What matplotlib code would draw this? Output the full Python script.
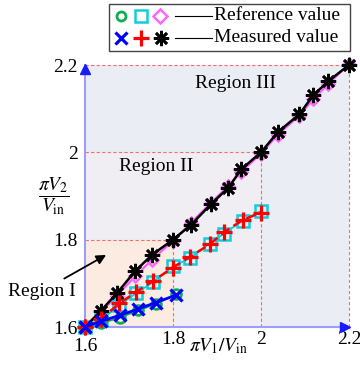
import matplotlib
matplotlib.use("Agg")
import matplotlib.pyplot as plt
from matplotlib.patches import Rectangle

plt.rcParams['font.family'] = ['Liberation Serif', 'DejaVu Serif']
plt.rcParams['mathtext.fontset'] = 'stix'

# ---- data ----
# Region I (blue / green)
x_r1 = [1.6, 1.636, 1.68, 1.72, 1.761, 1.807]
y_r1_meas = [1.6, 1.613, 1.627, 1.641, 1.656, 1.673]
y_r1_ref = [1.6, 1.609, 1.621, 1.638, 1.652, 1.676]
# Region II (red / cyan)
x_r2 = [1.6, 1.636, 1.678, 1.716, 1.755, 1.8, 1.839, 1.883, 1.916, 1.958, 2.0]
y_r2_meas = [1.6, 1.618, 1.654, 1.68, 1.706, 1.736, 1.761, 1.789, 1.817, 1.845, 1.862]
y_r2_ref = [1.6, 1.615, 1.650, 1.677, 1.703, 1.739, 1.758, 1.791, 1.814, 1.843, 1.866]
# Region III (black / magenta)
x_r3 = [1.6, 1.636, 1.673, 1.714, 1.752, 1.8, 1.84, 1.886, 1.926, 1.955, 2.0,
        2.038, 2.087, 2.119, 2.153, 2.2]
y_r3_meas = [1.6, 1.637, 1.678, 1.728, 1.765, 1.8, 1.833, 1.881, 1.919, 1.961, 2.0,
             2.046, 2.087, 2.131, 2.163, 2.2]
y_r3_ref = [1.6, 1.634, 1.672, 1.716, 1.754, 1.797, 1.838, 1.884, 1.924, 1.955, 1.997,
            2.040, 2.084, 2.122, 2.156, 2.203]
x_ticks = [1.8, 2.0, 2.2]
x_tick_labels = ['1.8', '2', '2.2']
y_ticks = [1.6, 1.8, 2.0, 2.2]
y_tick_labels = ['1.6', '1.8', '2', '2.2']
region_bounds = [2.2, 2.0, 1.8]
region_colors = ['#ebedf4', '#f1eef3', '#fbebe0']

W, H = 360, 365
fig = plt.figure(figsize=(W / 100, H / 100), dpi=100)

def fxy(px, py):
    return px / W, 1 - py / H

x0, x1 = 85, 349
y0, y1 = 327, 65
ax = fig.add_axes([x0 / W, 1 - y0 / H, (x1 - x0) / W, (y0 - y1) / H])
ax.set_xlim(1.6, 2.2)
ax.set_ylim(1.6, 2.2)
ax.set_facecolor('white')

# region shading and dashed boundaries
for b, c in zip(region_bounds, region_colors):
    ax.add_patch(Rectangle((1.6, 1.6), b - 1.6, b - 1.6, facecolor=c,
                           edgecolor='none', zorder=0))
for b in region_bounds:
    ax.plot([1.6, b], [b, b], color='#f07070', lw=0.8, dashes=(3, 2), zorder=1,
            clip_on=False)
    ax.plot([b, b], [1.6, b], color='#f07070', lw=0.8, dashes=(3, 2), zorder=1,
            clip_on=False)

# series
ax.plot(x_r3, y_r3_ref, color='#ff55ff', lw=1.5, marker='D', ms=6.5, mfc='none',
        mec='#ff66ff', mew=1.8, zorder=3, clip_on=False)
ax.plot(x_r3, y_r3_meas, color='black', lw=1.8, marker=(8, 2, 0), ms=11,
        mec='black', mew=1.9, zorder=4, clip_on=False)
ax.plot(x_r2, y_r2_ref, color='#00ccdd', lw=1.2, marker='s', ms=8.5, mfc='none',
        mec='#11ccdd', mew=1.8, zorder=3, clip_on=False)
ax.plot(x_r2, y_r2_meas, color='red', lw=1.8, dashes=(4, 2), marker='+', ms=11,
        mec='red', mew=2.3, zorder=4, clip_on=False)
ax.plot(x_r1, y_r1_ref, color='#11aa55', lw=1.2, marker='o', ms=7, mfc='none',
        mec='#11aa55', mew=2, zorder=3, clip_on=False)
ax.plot(x_r1, y_r1_meas, color='blue', lw=2, marker='x', ms=8.5, mec='blue',
        mew=2.3, zorder=4, clip_on=False)

# spines / arrows
for s in ['top', 'right']:
    ax.spines[s].set_visible(False)
for s in ['left', 'bottom']:
    ax.spines[s].set_color('#9d9dff')
    ax.spines[s].set_linewidth(1.5)
ax.plot([1.6], [2.19], marker='^', ms=7, color='#1a1aff', clip_on=False, zorder=5)
ax.plot([2.19], [1.6], marker='>', ms=7, color='#1a1aff', clip_on=False, zorder=5)

ax.set_xticks(x_ticks)
ax.set_xticklabels(x_tick_labels)
ax.set_yticks(y_ticks)
ax.set_yticklabels(y_tick_labels)
ax.tick_params(length=0, labelsize=14, pad=3)
ax.tick_params(axis='y', pad=5)
ax.text(1.6, 1.6 - 11 / 437, '1.6', fontsize=14, ha='center', va='top')

# region labels
ax.text(1.943, 2.158, 'Region III', fontsize=14, ha='center', va='center')
ax.text(1.761, 1.968, 'Region II', fontsize=14, ha='center', va='center')
ax.annotate('Region I', xy=(1.648, 1.765), xytext=(1.502, 1.682),
            fontsize=14, ha='center', va='center', annotation_clip=False,
            arrowprops=dict(arrowstyle='-|>', color='black', lw=1.3,
                            mutation_scale=14, shrinkA=2, shrinkB=0))

# axis labels
fig.text(*fxy(219, 346), r'$\pi V_1/V_{\rm in}$', fontsize=14, ha='center',
         va='center')
fig.text(*fxy(54, 196), r'$\dfrac{\pi V_2}{V_{\rm in}}$', fontsize=14,
         ha='center', va='center')

# legend (manual)
lax = fig.add_axes([0, 0, 1, 1])
lax.set_xlim(0, W)
lax.set_ylim(H, 0)
lax.axis('off')
lax.add_patch(Rectangle((108.5, 4), 241.5, 46.5, facecolor='white',
                        edgecolor='#444444', lw=1.0))
r1, r2 = 16, 38
lax.plot([121], [r1], marker='o', ms=6.5, mfc='none', mec='#11aa55', mew=2)
lax.plot([141], [r1], marker='s', ms=8.5, mfc='none', mec='#11ccdd', mew=1.8)
lax.plot([160], [r1], marker='D', ms=7.5, mfc='none', mec='#ff66ff', mew=1.8)
lax.plot([121], [r2], marker='x', ms=8, mec='blue', mew=2.3)
lax.plot([141], [r2], marker='+', ms=11, mec='red', mew=2.3)
lax.plot([160.5], [r2], marker=(8, 2, 0), ms=11, mec='black', mew=1.9)
lax.plot([175, 212], [r1, r1], color='black', lw=0.8)
lax.plot([175, 212], [r2, r2], color='black', lw=0.8)
lax.text(214, r1, 'Reference value', fontsize=14, va='center', ha='left')
lax.text(214, r2, 'Measured value', fontsize=14, va='center', ha='left')

fig.savefig('out.png', dpi=100)
